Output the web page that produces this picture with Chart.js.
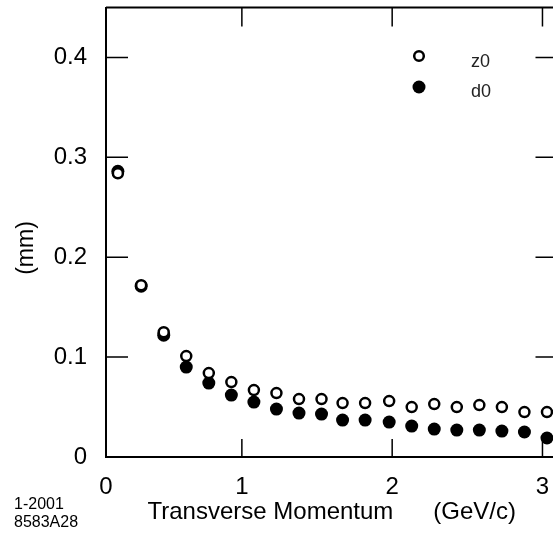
<!DOCTYPE html>
<html>
<head>
<meta charset="utf-8">
<script src="https://cdn.jsdelivr.net/npm/chart.js@4"></script>
<style>
  html, body { margin: 0; padding: 0; background: #fff; overflow: hidden; }
  #wrap { width: 565px; height: 533px; }
</style>
</head>
<body>
<div id="wrap"><canvas id="resChart" width="565" height="533"></canvas></div>
<script>
// Track resolution vs transverse momentum
const ptValues = [0.175, 0.33, 0.48, 0.63, 0.78, 0.93, 1.08, 1.23, 1.38, 1.53, 1.67, 1.82, 1.98, 2.13, 2.28, 2.43, 2.58, 2.73, 2.88, 3.03];
const z0Values = [0.284, 0.172, 0.125, 0.101, 0.084, 0.075, 0.067, 0.064, 0.058, 0.058, 0.054, 0.054, 0.056, 0.050, 0.053, 0.050, 0.052, 0.050, 0.045, 0.045];
const d0Values = [0.286, 0.171, 0.122, 0.090, 0.074, 0.062, 0.055, 0.048, 0.044, 0.043, 0.037, 0.037, 0.035, 0.031, 0.028, 0.027, 0.027, 0.026, 0.025, 0.019];

// tick positions / labels (the "0" sits at the axis corner in the original)
const xTickPos = [0.096, 1, 2, 3];
const xTickLabels = ['0', '1', '2', '3'];
const yTickPos = [0, 0.1, 0.2, 0.3, 0.4];
const yTickLabels = ['0', '0.1', '0.2', '0.3', '0.4'];

const FONT = 'Liberation Sans, Arial, Helvetica, sans-serif';

const toPoints = (ys) => ys.map((y, i) => ({ x: ptValues[i], y: y }));

// frame, inward ticks, legend and stamp text
const framePlugin = {
    id: 'framePlugin',
    afterDatasetsDraw(chart) {
        const ctx = chart.ctx;
        const a = chart.chartArea;
        const xs = chart.scales.x;
        const ys = chart.scales.y;
        ctx.save();
        ctx.strokeStyle = '#000';
        ctx.lineWidth = 2;
        ctx.beginPath();
        ctx.moveTo(a.left, a.top);
        ctx.lineTo(a.right, a.top);
        ctx.lineTo(a.right, a.bottom);
        ctx.stroke();

        ctx.lineWidth = 1.5;
        ctx.beginPath();
        [1, 2, 3].forEach(v => {
            const px = xs.getPixelForValue(v);
            ctx.moveTo(px, a.bottom);
            ctx.lineTo(px, a.bottom - 18);
            ctx.moveTo(px, a.top);
            ctx.lineTo(px, a.top + 19);
        });
        [0.1, 0.2, 0.3, 0.4].forEach(v => {
            const py = ys.getPixelForValue(v);
            ctx.moveTo(a.left, py);
            ctx.lineTo(a.left + 22, py);
            ctx.moveTo(a.right, py);
            ctx.lineTo(a.right - 22, py);
        });
        ctx.stroke();

        // legend
        ctx.lineWidth = 2.5;
        ctx.fillStyle = '#fff';
        ctx.beginPath();
        ctx.arc(419, 56, 4.8, 0, Math.PI * 2);
        ctx.fill();
        ctx.stroke();
        ctx.fillStyle = '#000';
        ctx.beginPath();
        ctx.arc(419, 87, 6.5, 0, Math.PI * 2);
        ctx.fill();

        ctx.font = '18px ' + FONT;
        ctx.textAlign = 'left';
        ctx.textBaseline = 'middle';
        ctx.fillStyle = '#222';
        ctx.fillText('z0', 471, 62);
        ctx.fillText('d0', 471, 92);

        // y axis title
        ctx.font = '23px ' + FONT;
        ctx.fillStyle = '#000';
        ctx.save();
        ctx.translate(27, 248);
        ctx.rotate(-Math.PI / 2);
        ctx.textAlign = 'center';
        ctx.fillText('(mm)', 0, 0);
        ctx.restore();

        // drawing stamp
        ctx.font = '16px ' + FONT;
        ctx.textAlign = 'left';
        ctx.fillText('1-2001', 14, 505);
        ctx.fillText('8583A28', 14, 523);
        ctx.restore();
    }
};

new Chart(document.getElementById('resChart'), {
    type: 'scatter',
    data: {
        datasets: [
            {
                label: 'z0',
                data: toPoints(z0Values),
                pointRadius: 5,
                pointBorderWidth: 2.5,
                pointBorderColor: '#000',
                pointBackgroundColor: '#fff',
                showLine: false
            },
            {
                label: 'd0',
                data: toPoints(d0Values),
                pointRadius: 6.5,
                pointBorderWidth: 0,
                pointBorderColor: '#000',
                pointBackgroundColor: '#000',
                showLine: false
            }
        ]
    },
    options: {
        responsive: false,
        animation: false,
        layout: { padding: { top: 5, right: 6, left: 0, bottom: 0 } },
        plugins: {
            legend: { display: false },
            tooltip: { enabled: false },
            title: { display: false }
        },
        scales: {
            x: {
                type: 'linear',
                min: 0.096,
                max: 3.1,
                afterBuildTicks: (s) => { s.ticks = xTickPos.map(v => ({ value: v })); },
                afterFit: (s) => { s.height = 76; s.paddingLeft = 0; s.paddingRight = 0; },
                grid: { display: false, drawTicks: false },
                border: { display: true, color: '#000', width: 2 },
                ticks: {
                    color: '#000',
                    padding: 16,
                    autoSkip: false,
                    maxRotation: 0,
                    font: { family: FONT, size: 24 },
                    callback: (v) => xTickLabels[xTickPos.indexOf(v)]
                },
                title: {
                    display: true,
                    text: 'Transverse Momentum      (GeV/c)',
                    color: '#000',
                    font: { family: FONT, size: 24 },
                    padding: { top: 0, bottom: 6 }
                }
            },
            y: {
                min: 0,
                max: 0.45,
                afterBuildTicks: (s) => { s.ticks = yTickPos.map(v => ({ value: v })); },
                afterFit: (s) => { s.width = 106; s.paddingTop = 0; s.paddingBottom = 0; },
                grid: { display: false, drawTicks: false },
                border: { display: true, color: '#000', width: 2 },
                ticks: {
                    color: '#000',
                    padding: 19,
                    autoSkip: false,
                    font: { family: FONT, size: 24 },
                    callback: (v) => yTickLabels[yTickPos.indexOf(v)]
                }
            }
        }
    },
    plugins: [framePlugin]
});
</script>
</body>
</html>
